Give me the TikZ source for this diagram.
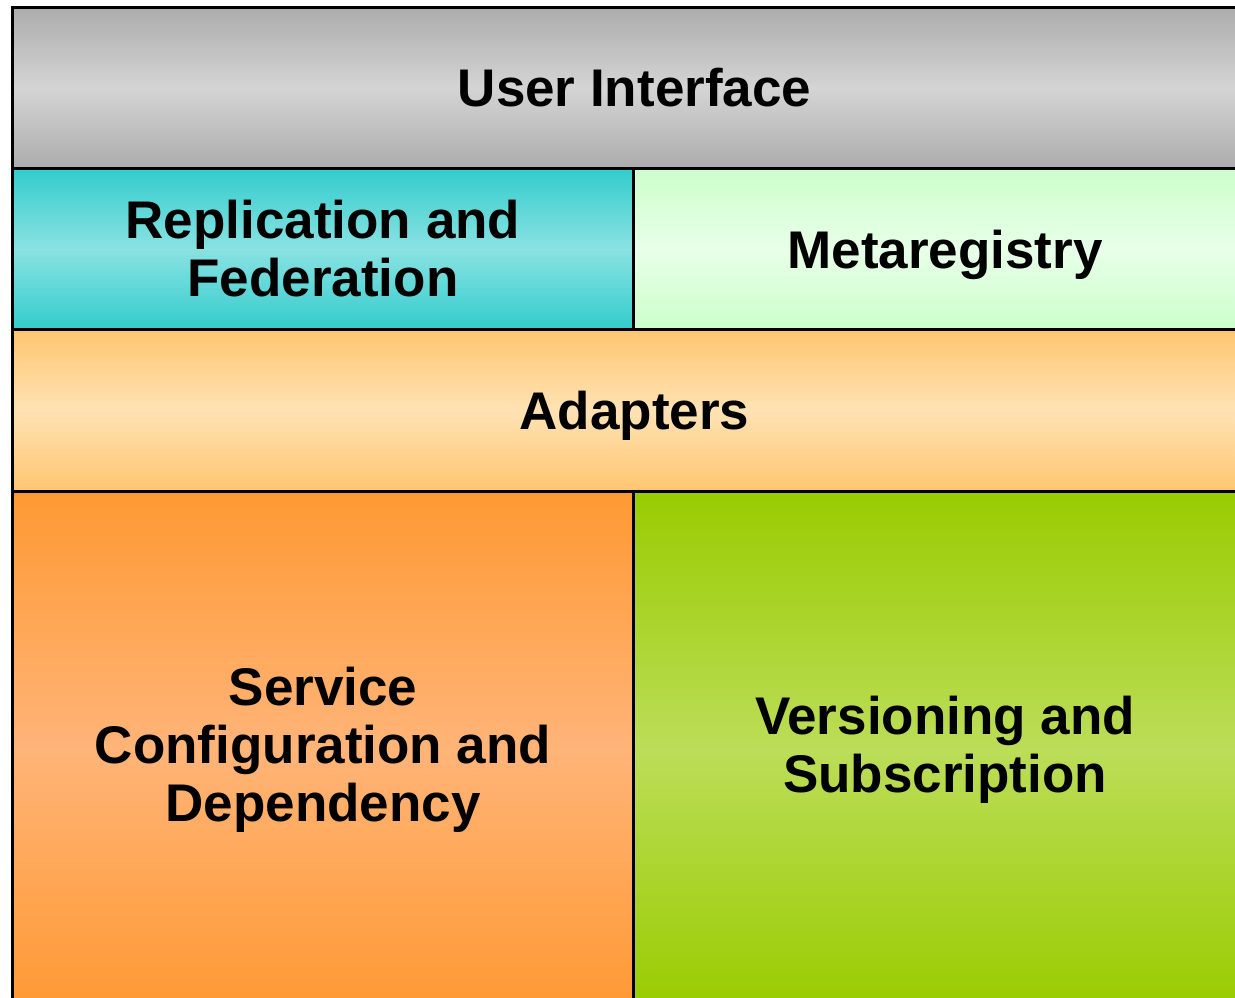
\documentclass[tikz,border=0pt]{standalone}
\usepackage{fontspec}
\setmainfont{Liberation Sans}
\usepackage{tikz}
\usetikzlibrary{positioning}

\definecolor{grayedge}{HTML}{ACACAC}
\definecolor{graymid}{HTML}{D4D4D4}
\definecolor{tealedge}{HTML}{33CCCC}
\definecolor{tealmid}{HTML}{8AE2E2}
\definecolor{mintedge}{HTML}{CCFFCC}
\definecolor{mintmid}{HTML}{E8FFE8}
\definecolor{peachedge}{HTML}{FFC670}
\definecolor{peachmid}{HTML}{FFE2B4}
\definecolor{orangeedge}{HTML}{FF9933}
\definecolor{orangemid}{HTML}{FFB478}
\definecolor{limeedge}{HTML}{99CC00}
\definecolor{limemid}{HTML}{BCDD58}

\tikzset{
  layer/.style={draw=black, line width=1.5pt, anchor=north west, align=center,
    inner sep=0pt, font=\bfseries\fontsize{26.5}{29}\selectfont},
  fade/.style={top color=#1edge, bottom color=#1edge, middle color=#1mid}
}

\begin{document}
\begin{tikzpicture}[x=0.5pt, y=-0.5pt]
\clip (0,0) rectangle (1235,997);

\node[layer, fade=gray, minimum width=622pt, minimum height=80.5pt] (ui) at (11,6) {User Interface};

\node[layer, fade=teal, minimum width=310.5pt, minimum height=80.5pt] (repl) at (11,167) {Replication and\\Federation};
\node[layer, fade=mint, text depth=0pt, minimum width=311.5pt, minimum height=80.5pt] (meta) at (632,167) {Metaregistry};

\node[layer, fade=peach, text depth=0pt, minimum width=622pt, minimum height=81pt] (adapt) at (11,328) {Adapters};

\node[layer, fade=orange, minimum width=310.5pt, minimum height=258pt] (svc) at (11,490) {Service\\Configuration and\\Dependency};
\node[layer, fade=lime, minimum width=311.5pt, minimum height=258pt] (vers) at (632,490) {Versioning and\\Subscription};
\end{tikzpicture}
\end{document}
